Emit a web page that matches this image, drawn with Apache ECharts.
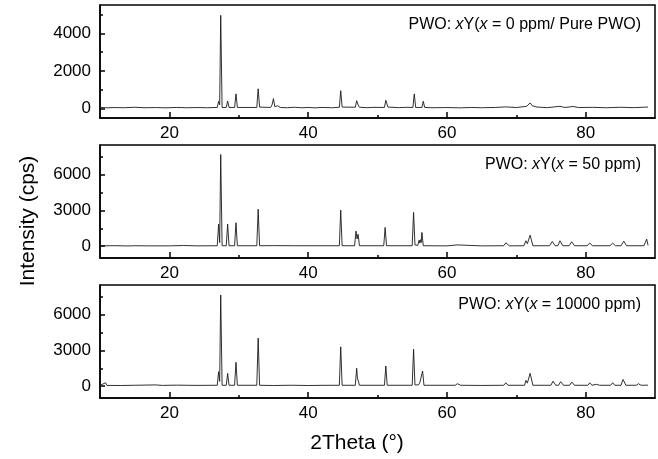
<!DOCTYPE html>
<html>
<head>
<meta charset="utf-8">
<script src="https://cdn.jsdelivr.net/npm/echarts@6/dist/echarts.min.js"></script>
<style>
  html, body { margin: 0; padding: 0; background: #fff; }
  #chart { width: 658px; height: 459px; }
</style>
</head>
<body>
<div id="chart"></div>
<script>
// XRD patterns, [2Theta, intensity]
const pure = [
  [10, 60], [11, 40], [12, 55], [13.5, 45], [15, 70], [16.5, 45], [18, 55], [19.5, 40],
  [21, 60], [22.5, 45], [24, 55], [25.5, 45], [26.9, 60],
  [27.1, 380], [27.25, 200], [27.4, 4950], [27.6, 60],
  [28.2, 60], [28.4, 400], [28.6, 60],
  [29.4, 60], [29.6, 780], [29.8, 60],
  [32.6, 60], [32.8, 1050], [33.0, 80],
  [34.6, 60], [34.8, 200], [35.0, 530], [35.2, 100], [35.6, 150], [36, 60],
  [37, 45], [38, 70], [39, 45], [40, 60], [41, 40], [42, 60], [43.5, 45],
  [44.5, 70], [44.7, 950], [44.9, 80],
  [46.8, 70], [47.0, 420], [47.2, 200], [47.4, 70], [48.5, 50], [49.5, 65],
  [51.0, 60], [51.2, 440], [51.5, 80], [53, 50], [54.2, 65],
  [55.1, 60], [55.3, 780], [55.5, 60], [56.4, 60], [56.6, 390], [56.8, 60],
  [58, 45], [60, 55], [62, 40], [63.5, 60], [65, 45], [67, 60], [68.5, 90], [70, 55],
  [71.5, 120], [72, 300], [72.3, 150], [73, 80], [74.5, 50],
  [76.3, 120], [77, 60], [78.2, 110], [79, 55], [81, 65], [83, 45], [85, 70],
  [87, 50], [88.5, 75], [89, 80]
];
const y50 = [
  [10, 20], [12, 35], [14, 15], [15, 30], [17, 20], [20, 20], [22, 50], [24, 20], [26.9, 30],
  [27.1, 1850], [27.25, 300], [27.4, 7700], [27.6, 30],
  [28.2, 30], [28.4, 1850], [28.6, 30],
  [29.4, 30], [29.6, 1960], [29.8, 30],
  [32.6, 30], [32.8, 3100], [33.0, 30],
  [35, 40], [38, 30], [40, 30],
  [44.5, 30], [44.7, 3020], [44.9, 30],
  [46.7, 30], [46.9, 1260], [47.05, 600], [47.2, 1000], [47.4, 30],
  [50.9, 30], [51.1, 1570], [51.3, 30],
  [55.0, 30], [55.2, 2830], [55.4, 100], [55.8, 60], [56.0, 500], [56.1, 250],
  [56.2, 540], [56.3, 300], [56.4, 1150], [56.6, 30],
  [60, 20], [61.5, 100], [65, 20], [68.2, 30], [68.5, 280], [69, 20],
  [71.1, 30], [71.4, 450], [71.6, 200], [72.0, 920], [72.4, 30],
  [74.8, 30], [75.2, 390], [75.6, 30], [76.0, 30], [76.3, 450], [76.7, 30],
  [77.6, 30], [78.0, 360], [78.4, 30], [80.2, 30], [80.6, 250], [81.0, 30],
  [83.5, 30], [83.9, 250], [84.3, 30], [85.1, 30], [85.5, 420], [85.9, 30],
  [88.4, 30], [88.8, 590], [89.0, 60]
];
const y10000 = [
  [10, 60], [10.8, 280], [11, 60], [13, 50], [15, 70], [18, 100], [19, 60], [21, 80], [24, 60], [26.9, 70],
  [27.1, 1210], [27.25, 400], [27.4, 7660], [27.6, 70],
  [28.2, 70], [28.4, 1070], [28.6, 70],
  [29.4, 70], [29.6, 2000], [29.8, 70],
  [32.6, 70], [32.8, 4030], [33.0, 70],
  [35, 50], [37.4, 70], [37.6, 180], [37.8, 70], [40, 50], [42, 65],
  [44.5, 70], [44.7, 3300], [44.9, 70],
  [46.8, 70], [47.0, 1500], [47.1, 700], [47.2, 790], [47.4, 70],
  [51.0, 70], [51.2, 1690], [51.4, 70],
  [55.0, 70], [55.2, 3100], [55.4, 100], [55.9, 100], [56.1, 280], [56.3, 150],
  [56.5, 1270], [56.7, 70],
  [61.2, 70], [61.5, 200], [62, 70], [65, 55], [68.2, 70], [68.5, 280], [68.8, 70],
  [71.2, 70], [71.4, 480], [71.6, 250], [72.0, 1070], [72.4, 70],
  [75.0, 70], [75.3, 420], [75.7, 70], [76.1, 70], [76.4, 370], [76.8, 70],
  [77.7, 70], [78.0, 340], [78.4, 70], [80.3, 70], [80.6, 280], [80.9, 70],
  [81.6, 150], [82, 70], [83.6, 70], [83.9, 280], [84.2, 70], [85.1, 70], [85.4, 560],
  [85.8, 70], [87.3, 70], [87.6, 200], [88, 70], [89, 80]
];

const xMajor = [20, 40, 60, 80];
const xMinor = [30, 50, 70];
const yMajor1 = [0, 2000, 4000];
const yMinor1 = [1000, 3000, 5000];
const yMajor2 = [0, 3000, 6000];
const yMinor2 = [1500, 4500, 7500];
const labels = ['0 ppm/ Pure PWO', '50 ppm', '10000 ppm'];

const font = 'Liberation Sans, Arial, sans-serif';
const panels = [
  { data: pure, top: 5, min: -500, max: 5500, major: yMajor1, minor: yMinor1 },
  { data: y50, top: 145, min: -1000, max: 8500, major: yMajor2, minor: yMinor2 },
  { data: y10000, top: 285, min: -1000, max: 8500, major: yMajor2, minor: yMinor2 }
];

const tickStyle = { color: '#000', width: 1.5 };
const grid = [], xAxis = [], yAxis = [], series = [], title = [];
panels.forEach((p, i) => {
  grid.push({
    left: 100, right: 3, top: p.top, height: 113,
    show: true, borderColor: '#000', borderWidth: 1.5, backgroundColor: 'transparent'
  });
  // major ticks + labels
  xAxis.push({
    type: 'value', gridIndex: i, min: 10, max: 90,
    axisLine: { show: true, onZero: false, lineStyle: { color: '#000', width: 1.5 } },
    axisTick: { inside: true, length: 6, customValues: xMajor, lineStyle: tickStyle },
    axisLabel: { customValues: xMajor, formatter: v => String(v), color: '#000', fontSize: 17, fontFamily: font, margin: 7 },
    splitLine: { show: false }
  });
  // minor ticks
  xAxis.push({
    type: 'value', gridIndex: i, min: 10, max: 90, position: 'bottom',
    axisLine: { show: false, onZero: false },
    axisTick: { inside: true, length: 3, customValues: xMinor, lineStyle: tickStyle },
    axisLabel: { show: false },
    splitLine: { show: false }
  });
  yAxis.push({
    type: 'value', gridIndex: i, min: p.min, max: p.max,
    axisLine: { show: true, onZero: false, lineStyle: { color: '#000', width: 1.5 } },
    axisTick: { inside: true, length: 5, customValues: p.major, lineStyle: tickStyle },
    axisLabel: { customValues: p.major, formatter: v => String(v), color: '#000', fontSize: 17, fontFamily: font, margin: 9 },
    splitLine: { show: false }
  });
  yAxis.push({
    type: 'value', gridIndex: i, min: p.min, max: p.max, position: 'left',
    axisLine: { show: false, onZero: false },
    axisTick: { inside: true, length: 3, customValues: p.minor, lineStyle: tickStyle },
    axisLabel: { show: false },
    splitLine: { show: false }
  });
  series.push({
    type: 'line', xAxisIndex: i * 2, yAxisIndex: i * 2,
    data: p.data, showSymbol: false, symbol: 'none',
    lineStyle: { color: '#1a1a1a', width: 0.9 }
  });
  title.push({
    text: 'PWO: {i|x}Y({i|x} = ' + labels[i] + ')',
    right: 12, top: p.top + 7,
    textStyle: {
      color: '#000', fontSize: 16, fontWeight: 'normal', fontFamily: font,
      rich: { i: { fontStyle: 'italic', fontSize: 16, fontFamily: font, color: '#000' } }
    }
  });
});

const chart = echarts.init(document.getElementById('chart'));
chart.setOption({
  animation: false,
  title: title,
  grid: grid,
  xAxis: xAxis,
  yAxis: yAxis,
  series: series,
  graphic: [
    {
      type: 'text', x: 28, y: 221, rotation: Math.PI / 2,
      style: { text: 'Intensity (cps)', fontSize: 21, fontFamily: font, fill: '#000', align: 'center', verticalAlign: 'middle' }
    },
    {
      type: 'text', x: 357, y: 443,
      style: { text: '2Theta (°)', fontSize: 21, fontFamily: font, fill: '#000', align: 'center', verticalAlign: 'middle' }
    }
  ]
});
</script>
</body>
</html>
